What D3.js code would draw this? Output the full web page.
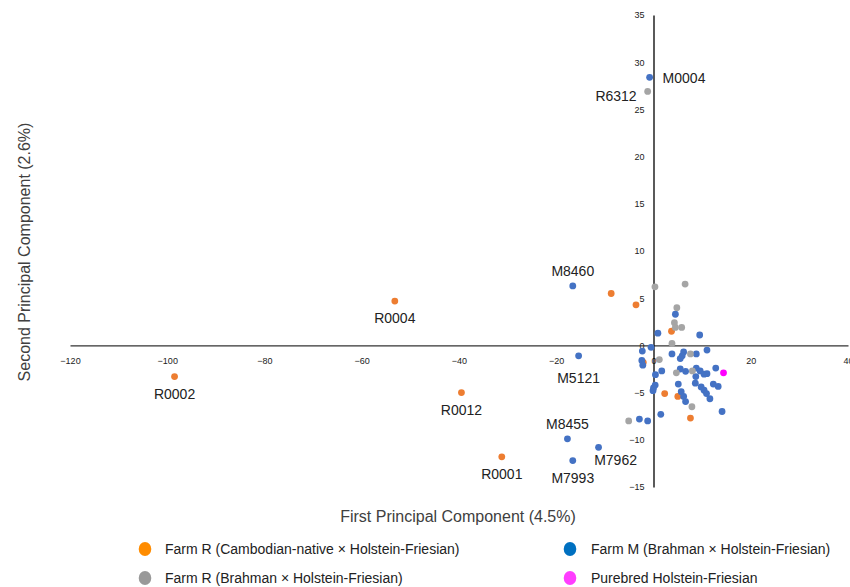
<!DOCTYPE html>
<html>
<head>
<meta charset="utf-8">
<script src="https://cdn.jsdelivr.net/npm/d3@7"></script>
<style>
  body { margin: 0; background: #fff; }
  svg { display: block; font-family: "Liberation Sans", Arial, sans-serif; }
</style>
</head>
<body>
<svg id="chart" width="850" height="587"></svg>
<script>
// PCA scores: [PC1, PC2, animal id]
const farmRCambodian = [
  [-98.5, -3.3, 'R0002'], [-53.2, 4.7, 'R0004'], [-39.5, -5.0, 'R0012'], [-31.2, -11.8, 'R0001'],
  [-8.7, 5.5], [-3.6, 4.3], [-2.1, -1.8], [3.7, 1.5], [2.3, -5.1], [5.0, -5.4], [7.6, -7.7]
];
const farmRBrahman = [
  [-1.2, 26.9, 'R6312'], [0.3, 6.2], [6.5, 6.5], [4.8, 4.0], [4.3, 2.4], [4.5, 1.9], [5.8, 1.9],
  [3.8, 0.2], [1.2, -1.5], [7.6, -0.9], [4.7, -2.9], [8.0, -2.7], [7.9, -6.5], [-5.1, -8.0]
];
const farmMBrahman = [
  [-0.8, 28.4, 'M0004'], [-16.6, 6.3, 'M8460'], [-15.4, -1.1, 'M5121'], [-17.7, -9.9, 'M8455'],
  [-11.3, -10.8, 'M7962'], [-16.6, -12.2, 'M7993'],
  [4.5, 3.3], [0.9, 1.3], [9.5, 1.1], [-0.5, -0.2], [-2.3, -0.6], [-2.4, -1.6], [-2.2, -2.1],
  [3.8, -0.9], [6.2, -0.7], [5.9, -1.1], [5.5, -1.4], [8.8, -0.9], [11.0, -0.5],
  [1.7, -2.7], [0.4, -3.1], [0.35, -4.2], [-0.1, -4.8], [0.0, -4.5],
  [5.5, -2.5], [6.6, -2.75], [8.8, -2.4], [9.6, -2.7], [10.4, -3.05], [11.0, -3.0], [8.7, -3.3],
  [12.8, -2.4], [5.1, -4.1], [8.6, -4.0], [9.8, -4.4], [10.4, -4.75], [10.9, -5.1], [11.6, -5.65],
  [12.3, -4.1], [13.3, -4.35], [5.7, -4.9], [6.2, -5.4], [6.6, -5.95], [14.1, -7.0],
  [1.5, -7.3], [-2.9, -7.8], [-1.2, -8.0]
];
const purebredHF = [[14.4, -2.9]];

const xTicks = [-120, -100, -80, -60, -40, -20, 0, 20, 40];
const yTicks = [-15, -10, -5, 0, 5, 10, 15, 20, 25, 30, 35];

const groups = [
  { name: 'Farm R (Cambodian-native \u00d7 Holstein-Friesian)', points: farmRCambodian },
  { name: 'Farm M (Brahman \u00d7 Holstein-Friesian)', points: farmMBrahman },
  { name: 'Farm R (Brahman \u00d7 Holstein-Friesian)', points: farmRBrahman },
  { name: 'Purebred Holstein-Friesian', points: purebredHF }
];

// label placement for tagged animals
const labelSide = {
  M0004: 'right', R6312: 'left', M8460: 'above', R0004: 'below', R0002: 'below',
  M5121: 'below2', R0012: 'below', M8455: 'above', R0001: 'below', M7962: 'belowright', M7993: 'below'
};

const dotColors = ['#ED7D31', '#4472C4', '#A5A5A5', '#FF00FF'];
const keyColors = ['#FF8C00', '#0070C0', '#999999', '#FF3DFF'];

const svg = d3.select('#chart');

const x = d3.scaleLinear().domain([-120, 40]).range([70, 848]);
const y = d3.scaleLinear().domain([-15, 35]).range([487, 15]);

// axes cross at the origin
svg.append('g')
    .attr('transform', 'translate(0,' + y(0) + ')')
    .call(d3.axisBottom(x).tickValues(xTicks).tickSize(0).tickPadding(12))
    .call(g => g.select('.domain').attr('stroke', '#333').attr('stroke-width', 1.3))
    .call(g => g.selectAll('text').attr('font-size', 9).attr('fill', '#222').attr('font-family', null));

svg.append('g')
    .attr('transform', 'translate(' + x(0) + ',0)')
    .call(d3.axisLeft(y).tickValues(yTicks).tickSize(0).tickPadding(9))
    .call(g => g.select('.domain').attr('stroke', '#000').attr('stroke-width', 1.3))
    .call(g => g.selectAll('text').attr('font-size', 9).attr('fill', '#222').attr('font-family', null));

// points
groups.forEach(function (grp, i) {
    svg.append('g').selectAll('circle')
        .data(grp.points)
        .enter()
        .append('circle')
        .attr('cx', d => x(d[0]))
        .attr('cy', d => y(d[1]))
        .attr('r', 3.4)
        .attr('fill', dotColors[i]);
});

// id labels
const tagged = [];
groups.forEach(grp => grp.points.forEach(d => { if (d[2]) tagged.push(d); }));

svg.append('g').selectAll('text')
    .data(tagged)
    .enter()
    .append('text')
    .attr('font-size', 14)
    .attr('fill', '#222')
    .attr('x', function (d) {
        const side = labelSide[d[2]];
        if (side === 'right') return x(d[0]) + 13;
        if (side === 'left') return x(d[0]) - 11;
        if (side === 'belowright') return x(d[0]) + 17;
        return x(d[0]);
    })
    .attr('y', function (d) {
        const side = labelSide[d[2]];
        let off = 0;
        if (side === 'right') off = 1;
        else if (side === 'left') off = 5;
        else if (side === 'above') off = -15;
        else if (side === 'below') off = 17;
        else if (side === 'below2') off = 22;
        else if (side === 'belowright') off = 13;
        return y(d[1]) + off + 5;
    })
    .attr('text-anchor', function (d) {
        const side = labelSide[d[2]];
        if (side === 'right') return 'start';
        if (side === 'left') return 'end';
        return 'middle';
    })
    .text(d => d[2]);

// axis titles
svg.append('text')
    .attr('x', 458).attr('y', 522)
    .attr('text-anchor', 'middle')
    .attr('font-size', 16).attr('fill', '#404040')
    .text('First Principal Component (4.5%)');

svg.append('text')
    .attr('transform', 'translate(30,252) rotate(-90)')
    .attr('text-anchor', 'middle')
    .attr('font-size', 16).attr('fill', '#404040')
    .text('Second Principal Component (2.6%)');

// legend
const legend = svg.append('g').selectAll('g')
    .data(groups)
    .enter()
    .append('g')
    .attr('transform', (d, i) => 'translate(' + (i % 2 === 0 ? 145 : 570) + ',' + (i < 2 ? 549 : 578) + ')');

legend.append('ellipse')
    .attr('rx', 6.3).attr('ry', 7)
    .attr('fill', (d, i) => keyColors[i]);

legend.append('text')
    .attr('x', (d, i) => i % 2 === 0 ? 20 : 21)
    .attr('y', 5)
    .attr('font-size', 14)
    .attr('fill', '#222')
    .text(d => d.name);
</script>
</body>
</html>
